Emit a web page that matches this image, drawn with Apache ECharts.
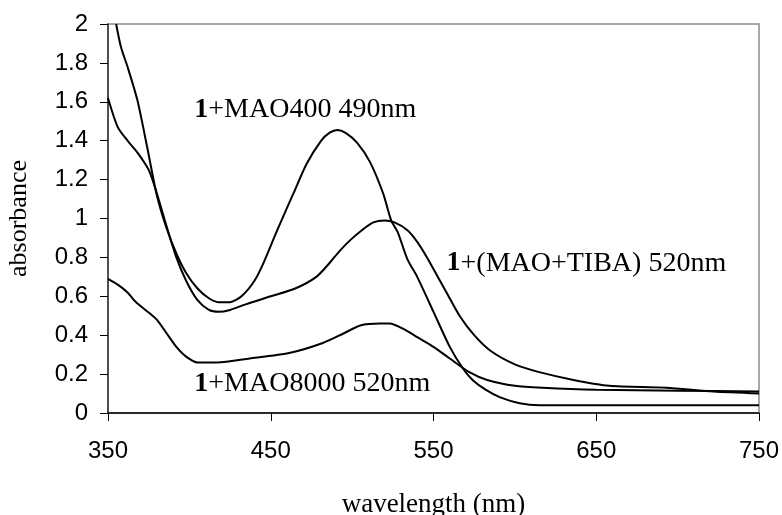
<!DOCTYPE html>
<html>
<head>
<meta charset="utf-8">
<script src="https://cdn.jsdelivr.net/npm/echarts@6/dist/echarts.min.js"></script>
<style>
html, body { margin: 0; padding: 0; background: #fff; }
#chart { width: 782px; height: 515px; }
</style>
</head>
<body>
<div id="chart"></div>
<script>
// x tick labels / y tick range
var xTicks = [350, 450, 550, 650, 750];
var yMax = 2;

// 1+MAO400, peak 490nm  [wavelength, absorbance]
var mao400 = [
	[355, 2.0], [358, 1.88], [362, 1.78], [368, 1.61], [374, 1.37], [380, 1.12],
	[386, 0.95], [392, 0.82], [398, 0.72], [405, 0.64], [412, 0.59], [418, 0.57],
	[425, 0.57], [432, 0.60], [440, 0.68], [446, 0.78], [454, 0.94], [464, 1.13],
	[472, 1.28], [481, 1.40], [486, 1.44], [491, 1.455], [496, 1.44], [503, 1.39],
	[511, 1.29], [519, 1.13], [524, 0.99], [528, 0.93], [534, 0.79], [540, 0.70],
	[550, 0.52], [560, 0.34], [568, 0.23], [574, 0.17], [582, 0.12], [591, 0.08],
	[603, 0.05], [615, 0.04], [622, 0.04], [750, 0.04]
];

// 1+(MAO+TIBA), peak 520nm
var maoTiba = [
	[350, 1.62], [356, 1.47], [362, 1.40], [368, 1.34], [375, 1.25], [380, 1.13],
	[386, 0.96], [392, 0.80], [398, 0.68], [405, 0.58], [412, 0.53], [418, 0.52],
	[425, 0.53], [435, 0.56], [450, 0.60], [465, 0.64], [478, 0.70], [486, 0.77],
	[492, 0.83], [499, 0.89], [506, 0.94], [513, 0.98], [520, 0.99], [526, 0.98],
	[534, 0.94], [540, 0.88], [546, 0.80], [552, 0.71], [558, 0.62], [566, 0.50],
	[575, 0.40], [585, 0.32], [600, 0.25], [615, 0.21], [636, 0.17], [658, 0.14],
	[693, 0.13], [722, 0.11], [750, 0.10]
];

// 1+MAO8000, peak 520nm
var mao8000 = [
	[350, 0.69], [356, 0.66], [362, 0.62], [366, 0.58], [370, 0.55], [376, 0.51],
	[380, 0.48], [386, 0.41], [392, 0.34], [398, 0.29], [405, 0.26], [417, 0.26],
	[437, 0.28], [462, 0.31], [482, 0.36], [495, 0.41], [505, 0.45], [517, 0.46],
	[523, 0.46], [532, 0.43], [540, 0.39], [550, 0.34], [560, 0.28], [572, 0.21],
	[583, 0.17], [600, 0.14], [617, 0.13], [650, 0.12], [700, 0.115], [750, 0.11]
];

// curve labels: [bold part, rest, anchor wavelength, anchor absorbance]
var labels = [
	['1', '+MAO400 490nm', 403, 1.56],
	['1', '+(MAO+TIBA) 520nm', 558, 0.77],
	['1', '+MAO8000 520nm', 403, 0.15]
];

var dom = document.getElementById('chart');
var myChart = echarts.init(dom);

function lineSeries(name, data) {
	return {
		name: name,
		type: 'line',
		data: data,
		showSymbol: false,
		smooth: 0.25,
		clip: true,
		lineStyle: { color: '#000', width: 2 },
		animation: false
	};
}

var option = {
	backgroundColor: '#fff',
	animation: false,
	grid: {
		left: 108, right: 23, top: 24, bottom: 102,
		outerBoundsMode: 'none',
		show: true, borderColor: '#8c8c8c', borderWidth: 1.5
	},
	xAxis: {
		type: 'value',
		min: xTicks[0], max: xTicks[xTicks.length - 1], interval: 100,
		name: 'wavelength (nm)', nameLocation: 'middle', nameGap: 78,
		nameTextStyle: { fontFamily: 'Liberation Serif', fontSize: 27, color: '#000' },
		axisLine: { lineStyle: { color: '#000', width: 1.5 } },
		axisTick: { show: true, inside: false, length: 8, lineStyle: { color: '#000' } },
		axisLabel: { fontFamily: 'Liberation Sans', fontSize: 24, color: '#000', margin: 26 },
		splitLine: { show: false }
	},
	yAxis: {
		type: 'value',
		min: 0, max: yMax, interval: 0.2,
		name: 'absorbance', nameLocation: 'middle', nameGap: 76,
		nameTextStyle: { fontFamily: 'Liberation Serif', fontSize: 26, color: '#000' },
		axisLine: { show: true, lineStyle: { color: '#333', width: 1.5 } },
		axisTick: { show: true, inside: false, length: 8, lineStyle: { color: '#000' } },
		axisLabel: { fontFamily: 'Liberation Sans', fontSize: 24, color: '#000', margin: 20 },
		splitLine: { show: false }
	},
	series: [
		lineSeries('1+MAO400 490nm', mao400),
		lineSeries('1+(MAO+TIBA) 520nm', maoTiba),
		lineSeries('1+MAO8000 520nm', mao8000)
	]
};
myChart.setOption(option);

// place the curve labels in data coordinates
var texts = [];
for (var i = 0; i < labels.length; i++) {
	var p = myChart.convertToPixel({ gridIndex: 0 }, [labels[i][2], labels[i][3]]);
	texts.push({
		type: 'text',
		x: p[0], y: p[1],
		style: {
			text: '{b|' + labels[i][0] + '}{n|' + labels[i][1] + '}',
			verticalAlign: 'middle',
			rich: {
				b: { fontFamily: 'Liberation Serif', fontSize: 28, fontWeight: 'bold', fill: '#000' },
				n: { fontFamily: 'Liberation Serif', fontSize: 28, fill: '#000' }
			}
		}
	});
}
myChart.setOption({ graphic: texts });
</script>
</body>
</html>
